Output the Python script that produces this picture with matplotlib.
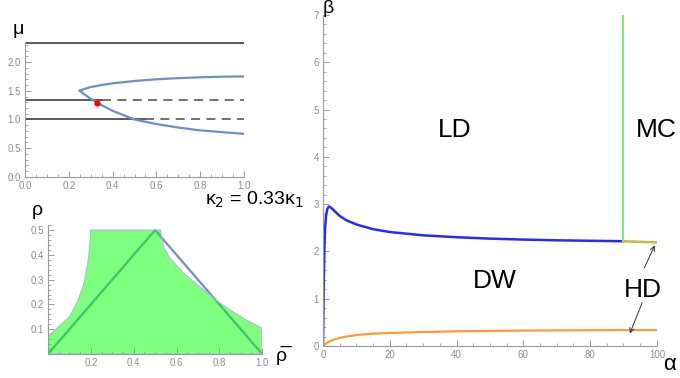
import matplotlib.pyplot as plt
from matplotlib.ticker import MultipleLocator
import numpy as np

plt.rcParams['font.family'] = ['Liberation Sans', 'DejaVu Sans']

# === top-left panel: mu vs kappa ===
mu_levels = [2.333, 1.333, 1.0]
mu_solid_end = [1.0, 0.35, 0.55]
k_up = [0.25, 0.27, 0.3, 0.35, 0.4, 0.5, 0.6, 0.7, 0.8, 0.9, 1.0]
mu_up = [1.5, 1.53, 1.565, 1.6, 1.63, 1.67, 1.70, 1.72, 1.735, 1.745, 1.75]
k_lo = [0.25, 0.27, 0.3, 0.33, 0.4, 0.5, 0.6, 0.7, 0.8, 0.9, 1.0]
mu_lo = [1.5, 1.44, 1.36, 1.29, 1.15, 1.0, 0.92, 0.86, 0.81, 0.78, 0.75]
red_pt = (0.33, 1.28)

# === bottom-left panel: rho vs rho-bar ===
fill_x = [0.0, 0.0, 0.05, 0.1, 0.14, 0.17, 0.19, 0.198, 0.2, 0.525, 0.54, 0.57,
          0.634, 0.71, 0.805, 0.9, 1.0, 1.0]
fill_y = [0.0, 0.07, 0.11, 0.15, 0.215, 0.29, 0.39, 0.47, 0.5, 0.5, 0.43, 0.386,
          0.325, 0.27, 0.204, 0.15, 0.103, 0.0]
tri_x = [0.0, 0.5, 1.0]
tri_y = [0.0, 0.5, 0.0]

# === right panel: phase diagram ===
a_blue = [0, 0.2, 0.4, 0.6, 0.9, 1.3, 1.8, 2.5, 3.5, 5, 7, 10, 15, 20, 30, 40, 50, 60, 70, 80, 90]
b_blue = [0, 1.2, 2.0, 2.45, 2.75, 2.9, 2.95, 2.92, 2.85, 2.75, 2.66, 2.57, 2.47, 2.41, 2.34,
          2.30, 2.27, 2.25, 2.235, 2.225, 2.215]
a_orange = [0, 1, 2, 3, 5, 7, 10, 15, 20, 30, 40, 50, 60, 70, 80, 90, 100]
b_orange = [0, 0.06, 0.10, 0.13, 0.17, 0.20, 0.23, 0.26, 0.275, 0.295, 0.31, 0.32, 0.325, 0.33,
            0.333, 0.336, 0.338]
a_mc = 90
b_mc = [2.215, 7.0]
a_hd = [90, 100]
b_hd = [2.215, 2.19]

tick_col = '#8c8c8c'
spine_col = '#9a9a9a'


def style(ax):
    for s in ['top', 'right']:
        ax.spines[s].set_visible(False)
    for s in ['left', 'bottom']:
        ax.spines[s].set_color(spine_col)
        ax.spines[s].set_linewidth(0.8)
    ax.tick_params(which='both', colors=spine_col, labelcolor=tick_col, labelsize=7,
                   direction='in', pad=3)
    ax.tick_params(which='major', length=4, width=0.7)
    ax.tick_params(which='minor', length=2.2, width=0.6)


fig = plt.figure(figsize=(6.8, 3.78), dpi=100)

# top-left
ax1 = fig.add_axes([0.0368, 0.532, 0.322, 0.357])
for lev, end in zip(mu_levels, mu_solid_end):
    ax1.plot([0, end], [lev, lev], color='#4d4d4d', lw=1.3)
    if end < 1.0:
        ax1.plot([end, 1.0], [lev, lev], color='#666666', lw=1.3, dashes=(5, 3.5))
ax1.plot(k_up, mu_up, color='#6f8fc6', lw=1.6)
ax1.plot(k_lo, mu_lo, color='#6f8fc6', lw=1.6)
ax1.plot(*red_pt, 'o', color='red', ms=3.5)
ax1.set_xlim(0, 1.0)
ax1.set_ylim(0, 2.35)
ax1.xaxis.set_major_locator(MultipleLocator(0.2))
ax1.xaxis.set_minor_locator(MultipleLocator(0.05))
ax1.yaxis.set_major_locator(MultipleLocator(0.5))
ax1.yaxis.set_minor_locator(MultipleLocator(0.1))
style(ax1)
fig.text(0.018, 0.91, 'μ', fontsize=14)
fig.text(0.301, 0.471, 'κ$_2$ = 0.33κ$_1$', fontsize=14, ha='left', va='center')

# bottom-left
ax2 = fig.add_axes([0.0706, 0.0635, 0.315, 0.341])
ax2.plot(tri_x, tri_y, color='#6f8fc6', lw=1.6, zorder=1)
ax2.fill(fill_x, fill_y, facecolor=(0, 1, 0, 0.5), edgecolor='#b0b8d8', lw=0.8, zorder=2)
ax2.set_xlim(0, 1.0)
ax2.set_ylim(0, 0.52)
ax2.xaxis.set_major_locator(MultipleLocator(0.2))
ax2.xaxis.set_minor_locator(MultipleLocator(0.05))
ax2.yaxis.set_major_locator(MultipleLocator(0.1))
ax2.yaxis.set_minor_locator(MultipleLocator(0.02))
style(ax2)
ax2.set_xticks([0.2, 0.4, 0.6, 0.8, 1.0])
ax2.set_yticks([0.1, 0.2, 0.3, 0.4, 0.5])
fig.text(0.046, 0.43, 'ρ', fontsize=14)
fig.text(0.405, 0.045, 'ρ̅', fontsize=14)

# right
ax3 = fig.add_axes([0.475, 0.0847, 0.491, 0.8757])
ax3.plot(a_blue, b_blue, color='#2a2af5', lw=1.8)
ax3.plot(a_orange, b_orange, color='#ff9c33', lw=1.6)
ax3.plot(a_hd, b_hd, color='#ff9c33', lw=1.8)
ax3.plot(a_hd, b_hd, color='#7ae65a', lw=1.0, alpha=0.8)
ax3.plot([a_mc, a_mc], b_mc, color='#77ee77', lw=1.4)
ax3.set_xlim(0, 100)
ax3.set_ylim(0, 7)
ax3.xaxis.set_major_locator(MultipleLocator(20))
ax3.xaxis.set_minor_locator(MultipleLocator(5))
ax3.yaxis.set_major_locator(MultipleLocator(1))
ax3.yaxis.set_minor_locator(MultipleLocator(0.2))
style(ax3)
ax3.text(34.4, 4.42, 'LD', fontsize=19)
ax3.text(93.7, 4.42, 'MC', fontsize=19)
ax3.text(44.9, 1.23, 'DW', fontsize=19)
ax3.text(95.7, 1.04, 'HD', fontsize=19, ha='center')
arr = dict(arrowstyle='->', color='#333333', lw=0.7, mutation_scale=8)
ax3.annotate('', xy=(99.7, 2.18), xytext=(95.9, 1.6), arrowprops=arr)
ax3.annotate('', xy=(91.6, 0.21), xytext=(95.9, 0.97), arrowprops=arr)
fig.text(0.474, 0.965, 'β', fontsize=14)
fig.text(0.975, 0.02, 'α', fontsize=16)

fig.savefig('out.png', dpi=100)
